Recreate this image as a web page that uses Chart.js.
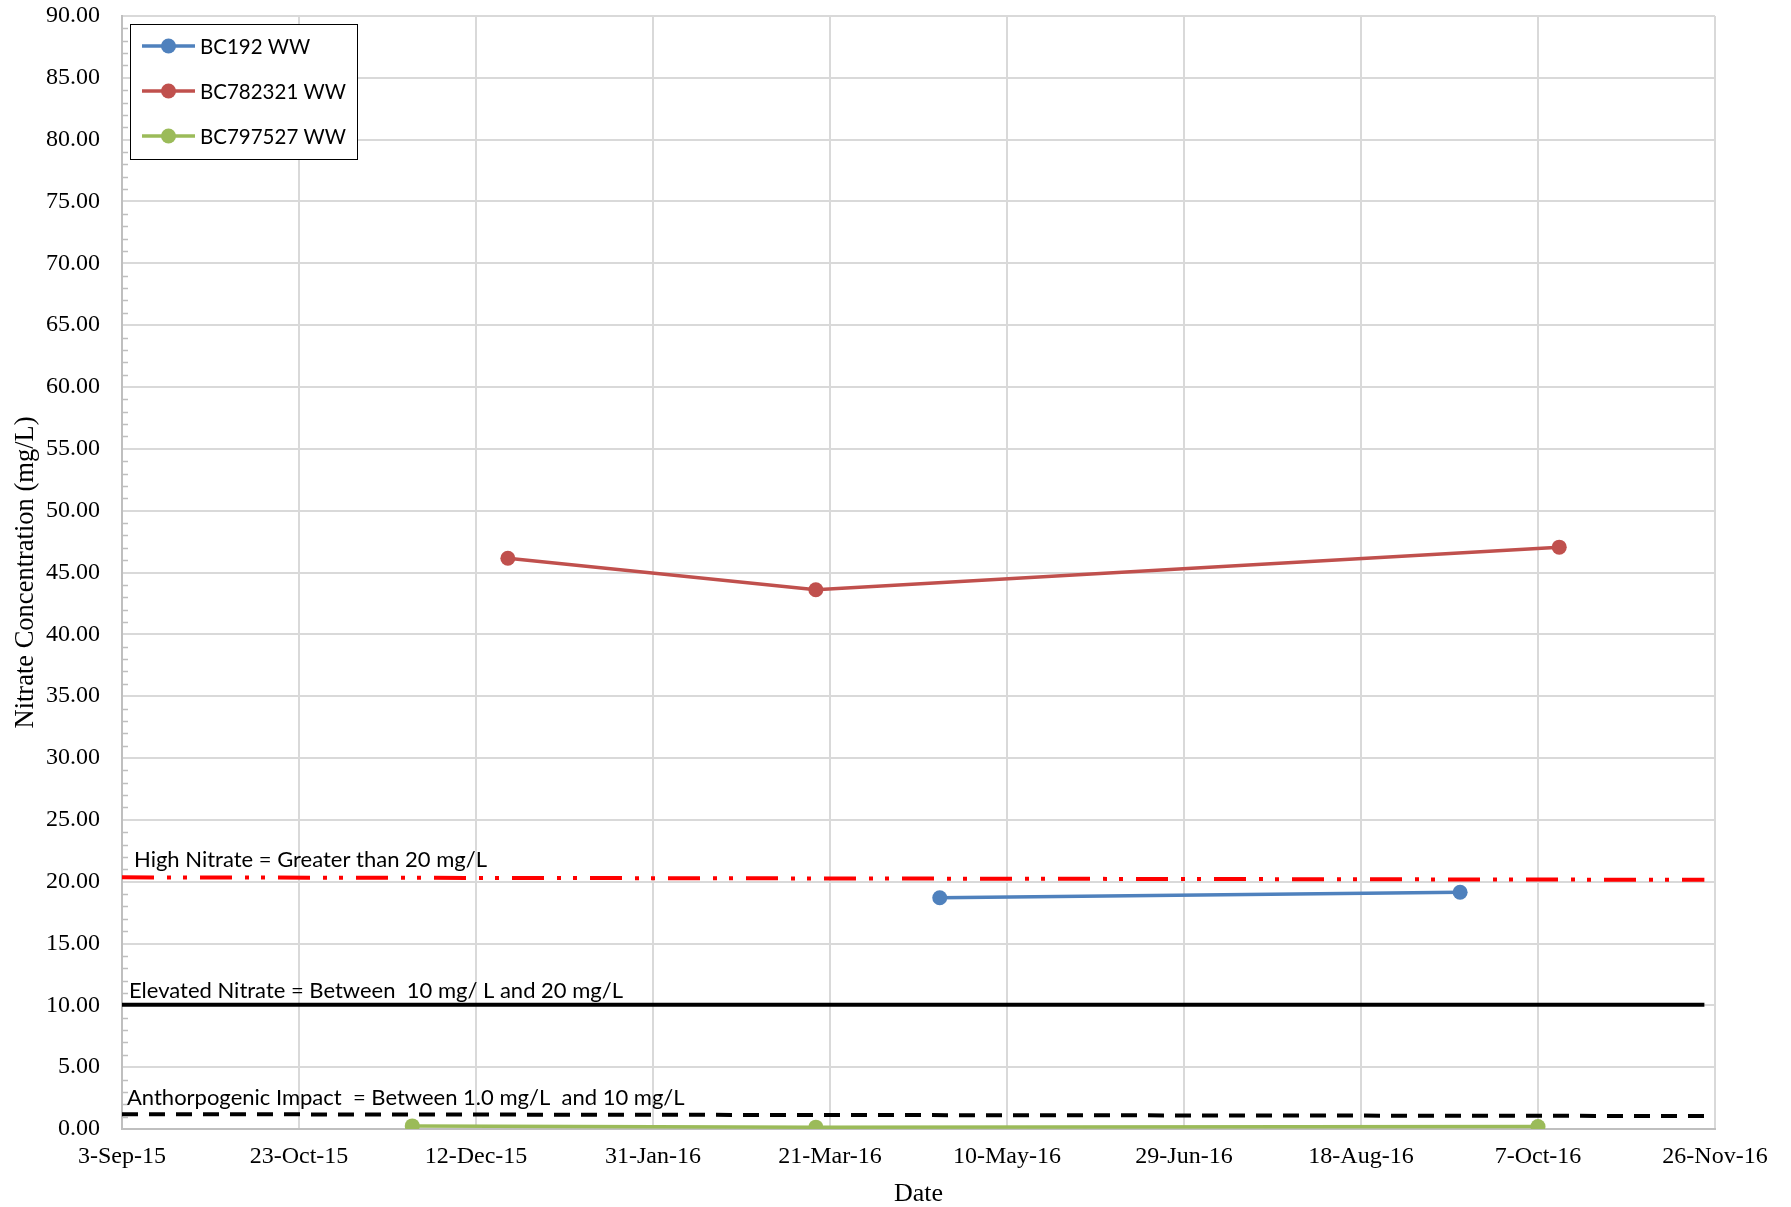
<!DOCTYPE html>
<html>
<head>
<meta charset="utf-8">
<script src="https://cdn.jsdelivr.net/npm/chart.js@4.4.0/dist/chart.umd.min.js"></script>
<style>
  html, body { margin: 0; padding: 0; background: #fff; }
  #wrap { width: 1791px; height: 1207px; position: relative; }
</style>
</head>
<body>
<div id="wrap"><canvas id="nitrateChart"></canvas></div>
<script>
// chart data
const startDate = '2015-09-03';
const xTickLabels = ['3-Sep-15', '23-Oct-15', '12-Dec-15', '31-Jan-16', '21-Mar-16',
                     '10-May-16', '29-Jun-16', '18-Aug-16', '7-Oct-16', '26-Nov-16'];

const seriesNames = ['BC192 WW', 'BC782321 WW', 'BC797527 WW'];
const seriesColors = ['#4f81bd', '#c0504d', '#9bbb59'];

const bc192Dates = ['2016-04-21', '2016-09-15'];
const bc192Values = [18.70, 19.15];

const bc782321Dates = ['2015-12-21', '2016-03-17', '2016-10-13'];
const bc782321Values = [46.15, 43.60, 47.05];

const bc797527Dates = ['2015-11-24', '2016-03-17', '2016-10-07'];
const bc797527Values = [0.25, 0.15, 0.20];

// guideline lines
const guideDates = ['2015-09-03', '2016-11-23'];
const highNitrateValues = [20.35, 20.15];
const elevatedNitrateValues = [10.05, 10.05];
const anthropogenicValues = [1.20, 1.05];
const guideLabels = ['High Nitrate = Greater than 20 mg/L',
                     'Elevated Nitrate = Between  10 mg/ L and 20 mg/L',
                     'Anthorpogenic Impact  = Between 1.0 mg/L  and 10 mg/L'];

//days since start date
function dayNum(s) {
    const a = new Date(s + 'T00:00:00Z'), b = new Date(startDate + 'T00:00:00Z');
    return Math.round((a - b) / 86400000);
}
function toPoints(dates, values) {
    return dates.map((d, i) => ({ x: dayNum(d), y: values[i] }));
}

function seriesDataset(i, dates, values) {
    return {
        label: seriesNames[i],
        data: toPoints(dates, values),
        borderColor: seriesColors[i],
        backgroundColor: seriesColors[i],
        borderWidth: 3.5,
        pointRadius: 7.5,
        pointBorderWidth: 0,
        showLine: true
    };
}
function guideDataset(values, color, dash) {
    return {
        label: '',
        data: toPoints(guideDates, values),
        borderColor: color,
        borderWidth: 4,
        borderDash: dash,
        pointRadius: 0,
        showLine: true
    };
}

// minor tick marks on the value axis
const minorTicks = {
    id: 'minorTicks',
    beforeDatasetsDraw(chart) {
        const y = chart.scales.y, ctx = chart.ctx;
        const left = chart.chartArea.left;
        ctx.save();
        ctx.strokeStyle = '#bfbfbf';
        ctx.lineWidth = 1.5;
        for (let v = 0; v <= 90; v++) {
            if (v % 5 === 0) continue;
            const py = Math.round(y.getPixelForValue(v)) + 0.5;
            ctx.beginPath();
            ctx.moveTo(left, py);
            ctx.lineTo(left + 6, py);
            ctx.stroke();
        }
        ctx.restore();
    }
};

// text above the guideline lines
const guideText = {
    id: 'guideText',
    afterDatasetsDraw(chart) {
        const ctx = chart.ctx, y = chart.scales.y;
        const left = chart.chartArea.left;
        const offsets = [12, 7, 5];
        const lift = [10, 7, 9];
        const lines = [highNitrateValues[0], elevatedNitrateValues[0], anthropogenicValues[0]];
        ctx.save();
        ctx.font = '22px Lato';
        ctx.fillStyle = '#000';
        ctx.textBaseline = 'alphabetic';
        guideLabels.forEach((t, i) => {
            ctx.fillText(t, left + offsets[i], y.getPixelForValue(lines[i]) - lift[i]);
        });
        ctx.restore();
    }
};

// legend box inside the plot
const insideLegend = {
    id: 'insideLegend',
    afterDraw(chart) {
        const ctx = chart.ctx;
        const bx = 130.5, by = 24.5, bw = 227, bh = 135;
        ctx.save();
        ctx.fillStyle = '#fff';
        ctx.fillRect(bx, by, bw, bh);
        ctx.strokeStyle = '#000';
        ctx.lineWidth = 1;
        ctx.strokeRect(bx, by, bw, bh);
        ctx.font = '20.5px Lato';
        ctx.textBaseline = 'middle';
        seriesNames.forEach((name, i) => {
            const cy = 46 + i * 45;
            ctx.strokeStyle = seriesColors[i];
            ctx.lineWidth = 3.5;
            ctx.beginPath();
            ctx.moveTo(142, cy);
            ctx.lineTo(195, cy);
            ctx.stroke();
            ctx.fillStyle = seriesColors[i];
            ctx.beginPath();
            ctx.arc(168.5, cy, 7.5, 0, Math.PI * 2);
            ctx.fill();
            ctx.fillStyle = '#000';
            ctx.fillText(name, 200, cy + 1);
        });
        ctx.restore();
    }
};

function plotNitrate() {
    const ctx = document.getElementById('nitrateChart').getContext('2d');
    new Chart(ctx, {
        type: 'scatter',
        data: {
            datasets: [
                seriesDataset(0, bc192Dates, bc192Values),
                seriesDataset(1, bc782321Dates, bc782321Values),
                seriesDataset(2, bc797527Dates, bc797527Values),
                guideDataset(highNitrateValues, '#ff0000', [32, 13, 4, 12, 4, 13]),
                guideDataset(elevatedNitrateValues, '#000000', []),
                guideDataset(anthropogenicValues, '#000000', [16, 11])
            ]
        },
        options: {
            responsive: true,
            maintainAspectRatio: false,
            animation: false,
            layout: { padding: { left: 10, top: 16, right: 76, bottom: 0 } },
            scales: {
                x: {
                    type: 'linear',
                    min: 0,
                    max: 450,
                    afterFit: s => { s.height = 78; s.paddingLeft = 0; s.paddingRight = 0; },
                    afterBuildTicks: s => {
                        s.ticks = xTickLabels.map((_, i) => ({ value: i * 50 }));
                    },
                    ticks: {
                        autoSkip: false,
                        maxRotation: 0,
                        padding: 13,
                        color: '#000',
                        font: { family: 'Liberation Serif', size: 24 },
                        callback: (v) => xTickLabels[Math.round(v / 50)]
                    },
                    grid: { color: '#d9d9d9', lineWidth: 2, drawTicks: false },
                    border: { display: true, color: '#bfbfbf', width: 2 },
                    title: {
                        display: true,
                        text: 'Date',
                        color: '#000',
                        padding: 0,
                        font: { family: 'Liberation Serif', size: 26, lineHeight: 1.0 }
                    }
                },
                y: {
                    min: 0,
                    max: 90,
                    afterFit: s => { s.width = 112; s.paddingTop = 0; s.paddingBottom = 0; },
                    ticks: {
                        stepSize: 5,
                        padding: 22,
                        color: '#000',
                        font: { family: 'Liberation Serif', size: 24 },
                        callback: (v) => v.toFixed(2)
                    },
                    grid: { color: '#d9d9d9', lineWidth: 2, drawTicks: false },
                    border: { display: true, color: '#bfbfbf', width: 2 },
                    title: {
                        display: true,
                        text: 'Nitrate Concentration (mg/L)',
                        color: '#000',
                        padding: 0,
                        font: { family: 'Liberation Serif', size: 26.5 }
                    }
                }
            },
            plugins: {
                legend: { display: false },
                tooltip: { enabled: false }
            }
        },
        plugins: [minorTicks, guideText, insideLegend]
    });
}

plotNitrate();
</script>
</body>
</html>
